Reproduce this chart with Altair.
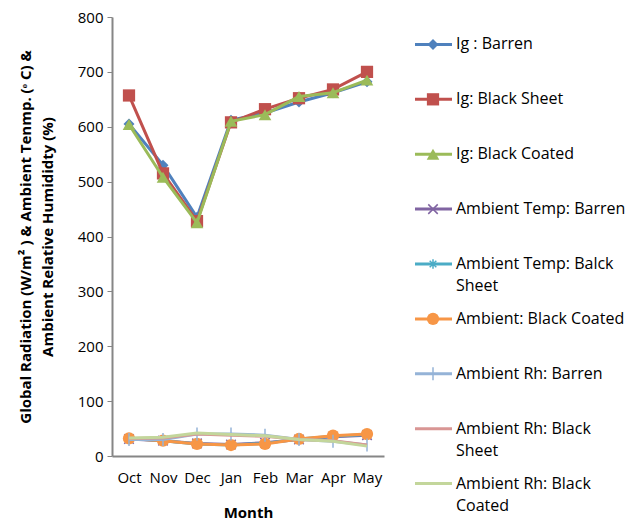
import altair as alt
import pandas as pd

months = ["Oct", "Nov", "Dec", "Jan", "Feb", "Mar", "Apr", "May"]

series_names = [
    "Ig : Barren",
    "Ig: Black Sheet",
    "Ig: Black Coated",
    "Ambient Temp: Barren",
    "Ambient Temp: Balck Sheet",
    "Ambient: Black Coated",
    "Ambient Rh: Barren",
    "Ambient Rh: Black Sheet",
    "Ambient Rh: Black Coated",
]
legend_line1 = [
    "Ig : Barren", "Ig: Black Sheet", "Ig: Black Coated", "Ambient Temp: Barren",
    "Ambient Temp: Balck", "Ambient: Black Coated", "Ambient Rh: Barren",
    "Ambient Rh: Black", "Ambient Rh: Black",
]
legend_line2 = ["", "", "", "", "Sheet", "", "", "Sheet", "Coated"]

ig_barren = [605, 530, 435, 612, 625, 645, 662, 682]
ig_black_sheet = [657, 515, 428, 608, 632, 652, 668, 700]
ig_black_coated = [604, 508, 425, 610, 622, 655, 662, 685]
temp_barren = [31, 28, 23, 21, 24, 30, 35, 38]
temp_black_sheet = [32, 28, 22, 20, 23, 31, 36, 39]
temp_black_coated = [32, 28, 22, 20, 22, 31, 37, 40]
rh_barren = [30, 30, 40, 40, 38, 30, 27, 20]
rh_black_sheet = [32, 33, 40, 38, 36, 30, 28, 20]
rh_black_coated = [33, 34, 42, 39, 37, 30, 27, 18]

values = [ig_barren, ig_black_sheet, ig_black_coated, temp_barren, temp_black_sheet,
          temp_black_coated, rh_barren, rh_black_sheet, rh_black_coated]

colors = ["#4F81BD", "#C0504D", "#9BBB59", "#8064A2", "#4BACC6", "#F79646",
          "#95B3D7", "#D99694", "#C3D69B"]

X_PATH = "M-1,-1L1,1M-1,1L1,-1"
STAR_PATH = "M-1,0L1,0M0,-1L0,1M-0.7,-0.7L0.7,0.7M-0.7,0.7L0.7,-0.7"
PLUS_PATH = "M0,-1L0,1"
shapes = ["diamond", "square", "triangle-up", X_PATH, STAR_PATH, "circle", PLUS_PATH, None, None]
filled = [True, True, True, False, False, True, False, None, None]
sizes = [120, 150, 160, 90, 90, 150, 170, 0, 0]

rows = []
for s, vals in zip(series_names, values):
    for m, v in zip(months, vals):
        rows.append({"series": s, "month": m, "value": v})
df = pd.DataFrame(rows)

leg_df = pd.DataFrame({"series": series_names, "line1": legend_line1, "line2": legend_line2})

FONT = "Open Sans"

x_enc = alt.X("month:N", sort=months, scale=alt.Scale(type="point", padding=0.5),
              title="Month",
              axis=alt.Axis(labelAngle=0, ticks=False, domainColor="#868686", domainWidth=2,
                            labelPadding=14, titlePadding=20))
y_enc = alt.Y("value:Q", scale=alt.Scale(domain=[0, 800], nice=False),
              title=["Global Radiation (W/m² ) & Ambient Tenmp. (ᵒ C) &",
                     "Ambient Relative Humididty (%)"],
              axis=alt.Axis(values=list(range(0, 801, 100)), grid=False, tickColor="#868686",
                            tickSize=5, domainColor="#868686", domainWidth=2,
                            labelPadding=4, titlePadding=22, titleLineHeight=22))

base = alt.Chart(df)
layers = []
for i, s in enumerate(series_names):
    sub = base.transform_filter(alt.datum.series == s)
    layers.append(sub.mark_line(color=colors[i], strokeWidth=3).encode(x=x_enc, y=y_enc))
    if shapes[i] is not None:
        if filled[i]:
            pm = sub.mark_point(shape=shapes[i], filled=True, color=colors[i], size=sizes[i], opacity=1)
        else:
            pm = sub.mark_point(shape=shapes[i], filled=False, color=colors[i], size=sizes[i],
                                strokeWidth=1.5, opacity=1)
        layers.append(pm.encode(x=x_enc, y=y_enc))

main = alt.layer(*layers).properties(width=272, height=439)

leg_y = alt.Y("series:N", sort=series_names, scale=alt.Scale(type="point", padding=0.5), axis=None)
leg_base = alt.Chart(leg_df)
leg_layers = []
for i, s in enumerate(series_names):
    sub = leg_base.transform_filter(alt.datum.series == s)
    leg_layers.append(sub.mark_rule(color=colors[i], strokeWidth=3).encode(
        x=alt.value(21), x2=alt.value(58), y=leg_y))
    if shapes[i] is not None:
        if filled[i]:
            pm = sub.mark_point(shape=shapes[i], filled=True, color=colors[i], size=sizes[i], opacity=1)
        else:
            pm = sub.mark_point(shape=shapes[i], filled=False, color=colors[i], size=sizes[i],
                                strokeWidth=1.5, opacity=1)
        leg_layers.append(pm.encode(x=alt.value(39), y=leg_y))
leg_layers.append(leg_base.mark_text(align="left", baseline="middle", font=FONT, fontSize=16,
                                     color="#000000").encode(
    x=alt.value(62), y=leg_y, text="line1:N"))
leg_layers.append(leg_base.mark_text(align="left", baseline="middle", font=FONT, fontSize=16,
                                     color="#000000", dy=22).encode(
    x=alt.value(62), y=leg_y, text="line2:N"))
legend = alt.layer(*leg_layers).properties(width=190, height=494)

chart = alt.hconcat(main, legend, spacing=10).properties(
    padding={"left": 10, "top": 2, "right": 0, "bottom": 0}
).configure_view(stroke=None).configure_axis(
    labelFont=FONT, labelFontSize=15, labelColor="#000000",
    titleFont=FONT, titleFontSize=15, titleFontWeight="bold", titleColor="#000000",
)

chart.save("out.html", embed_options={"renderer": "svg", "actions": False})
